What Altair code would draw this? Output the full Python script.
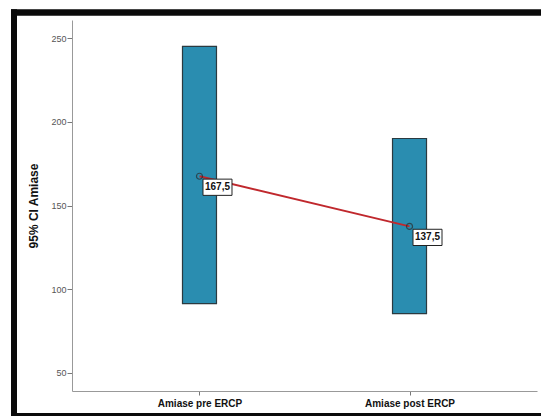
import altair as alt
import pandas as pd

categories = ["Amiase pre ERCP", "Amiase post ERCP"]
means = [167.5, 137.5]
ci_lower = [91.3, 85.3]
ci_upper = [245.2, 190.1]
mean_labels = ["167,5", "137,5"]
y_ticks = [50, 100, 150, 200, 250]

df = pd.DataFrame({
    "cat": categories,
    "mean": means,
    "lo": ci_lower,
    "hi": ci_upper,
    "label": mean_labels,
})

W, H = 465, 371

x_enc = alt.X(
    "cat:N",
    sort=categories,
    scale=alt.Scale(type="point", padding=0.607),
    axis=alt.Axis(
        title=None, labelAngle=0, labelFontWeight="bold", labelFontSize=10,
        labelColor="#111", tickSize=4, labelPadding=3, domainColor="#999",
        tickColor="#777", labelFont="Liberation Sans",
    ),
)
y_scale = alt.Scale(domain=[39, 261], nice=False, zero=False)

base = alt.Chart(df)

bars = base.mark_bar(size=34, color="#2a8db0", stroke="#2b3a40", strokeWidth=1.2).encode(
    x=x_enc,
    y=alt.Y(
        "lo:Q", scale=y_scale,
        axis=alt.Axis(
            title="95% CI Amiase", values=y_ticks, grid=False, tickSize=5,
            labelFontSize=9, labelColor="#555", labelFont="Liberation Sans",
            domainColor="#999", tickColor="#777", titleFont="Liberation Sans",
            titleFontSize=12, titleFontWeight="bold", titleColor="#111",
            titlePadding=10, labelPadding=1,
        ),
    ),
    y2="hi:Q",
)

line = base.mark_line(color="#c0282d", strokeWidth=2).encode(
    x=alt.X("cat:N", sort=categories),
    y=alt.Y("mean:Q", scale=y_scale),
)

pts = base.mark_point(filled=False, stroke="#2a2a2a", strokeWidth=1.2, size=36).encode(
    x=alt.X("cat:N", sort=categories),
    y=alt.Y("mean:Q", scale=y_scale),
)

box_shape = "M-1,-0.56L1,-0.56L1,0.56L-1,0.56Z"
boxes = base.mark_point(
    shape=box_shape, filled=True, fill="white", stroke="#222", strokeWidth=1,
    size=29 * 29, opacity=1, xOffset=18, yOffset=11,
).encode(
    x=alt.X("cat:N", sort=categories),
    y=alt.Y("mean:Q", scale=y_scale),
)

texts = base.mark_text(
    font="Liberation Sans", fontSize=10, fontWeight="bold", color="#111",
    xOffset=18, yOffset=11, align="center", baseline="middle",
).encode(
    x=alt.X("cat:N", sort=categories),
    y=alt.Y("mean:Q", scale=y_scale),
    text="label:N",
)

frame_top = alt.Chart(df).mark_rule(color="#0a0a0a", strokeWidth=6).encode(
    x=alt.value(-61), x2=alt.value(W + 10), y=alt.value(-7.5), y2=alt.value(-7.5)
)
frame_left = alt.Chart(df).mark_rule(color="#0a0a0a", strokeWidth=6).encode(
    x=alt.value(-58), x2=alt.value(-58), y=alt.value(-10.5), y2=alt.value(H + 30)
)
frame_bottom = alt.Chart(df).mark_rule(color="#0a0a0a", strokeWidth=3).encode(
    x=alt.value(-61), x2=alt.value(W + 10), y=alt.value(H + 23.5), y2=alt.value(H + 23.5)
)

chart = alt.layer(
    bars, line, pts, boxes, texts, frame_top, frame_left, frame_bottom
).properties(
    width=W, height=H,
    padding={"left": 72, "top": 20, "right": 4, "bottom": 25},
    autosize=alt.AutoSizeParams(type="none"),
    background="white",
).configure_view(stroke=None)

chart.save("out.html", embed_options={"renderer": "svg", "actions": False})
